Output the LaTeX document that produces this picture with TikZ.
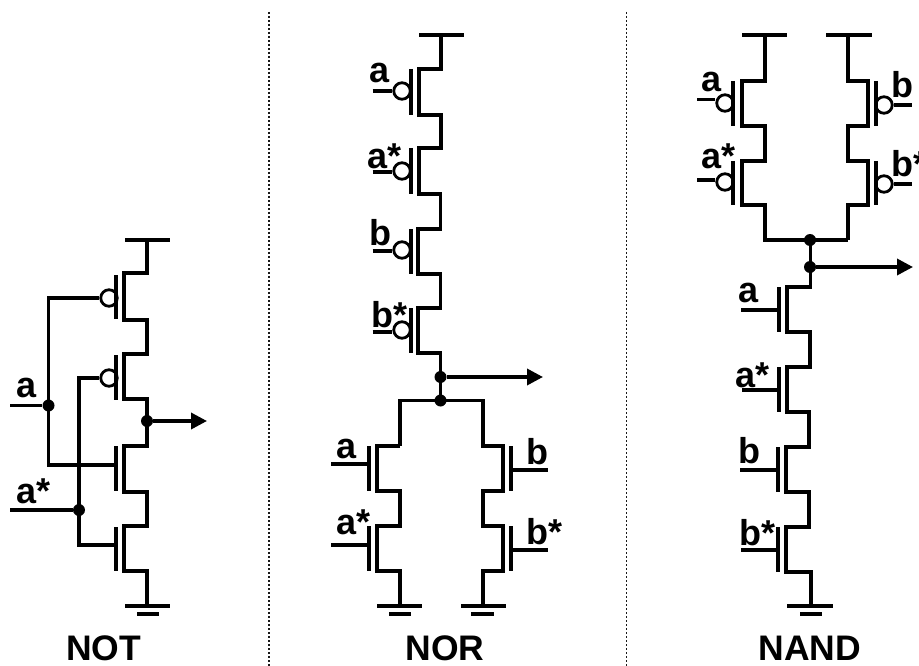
\documentclass[tikz,border=0pt]{standalone}
\usepackage{fontspec}
\setmainfont{Liberation Sans}
\usetikzlibrary{arrows.meta}
\tikzset{
  wire/.style={line width=3.5pt,line join=miter},
  bar/.style={line width=4.5pt},
  bubble/.style={circle,draw,line width=2.8pt,fill=white,minimum size=16.5pt,inner sep=0pt},
  joint/.style={circle,fill=black,minimum size=12pt,inner sep=0pt},
  outarrow/.style={line width=3.5pt,-{Triangle[length=16pt,width=16pt]}},
  lbl/.style={anchor=base west,inner sep=0pt,font=\fontsize{36}{36}\selectfont\bfseries},
  title/.style={anchor=base,inner sep=0pt,font=\fontsize{35.5}{36}\selectfont\bfseries},
  sep/.style={line width=1.8pt,dash pattern=on 1.8pt off 2.2pt,color=black!90}
}
\begin{document}
\begin{tikzpicture}[x=1pt,y=-1pt]
  \useasboundingbox (0,0) rectangle (919,666);
  % panel separators
  \draw[sep] (269,12) -- (269,666);
  \draw[sep] (626.5,12) -- (626.5,666);

  % NOT
  \draw[bar] (125,240) -- (170,240);
  \draw[wire] (147,240) -- (147,273) -| (124,320) -| (147,354) -| (124,399) -| (147,446)
  -| (124,492) -| (147,526) -| (124,571) -| (147,606);
  \draw[bar] (125,606) -- (170,606);
  \draw[bar] (137,614) -- (159,614);
  \node[bubble] (nota) at (109,298) {};
  \node[bubble] (notb) at (109,378) {};
  \foreach \t/\b in {275/319,355/400,446/491,527/571}
  \draw[bar] (116,\t) -- (116,\b);
  \node[joint] (nj1) at (48.5,405.5) {};
  \node[joint] (nj2) at (79,510) {};
  \node[joint] (nj3) at (147,421) {};
  \coordinate (nin1) at (10,405.5);
  \coordinate (nin2) at (10,510);
  \coordinate (nout) at (207,421);
  \draw[wire] (nin1) -- (nj1);
  \draw[wire] (nin2) -- (nj2);
  \draw[wire] (nota.west) -| (nj1.center) |- (116,465);
  \draw[wire] (notb.west) -| (nj2.center) |- (116,545);
  \draw[outarrow] (nj3) -- (nout);
  \node[lbl] (nl1) at (16,397) {a};
  \node[lbl] (nl2) at (16,503) {a*};
  \node[title] (ntitle) at (103.5,660) {NOT};

  % NOR, series part
  \draw[bar] (419,35) -- (464,35);
  \draw[wire] (441,35) -- (441,69) -| (419,115) -| (441,148) -| (419,194) -| (440.5,229)
  -| (418,274) -| (440.5,308) -| (418,353) -| (440.5,400);
  \foreach \n/\y/\w in {a/91/91,b/171/172,c/250/251,d/330/332}{
    \node[bubble] (nor\n) at (402,\y) {};
    \coordinate (norin\n) at (372.5,\w);
    \draw[wire] (norin\n) -- (nor\n.west |- norin\n);
  }
  \foreach \t/\b in {69/115,148/194,229/274,308/353}
  \draw[bar] (411,\t) -- (411,\b);
  \node[lbl] (rl1) at (369,83) {a};
  \node[lbl] (rl2) at (367,168) {a*};
  \node[lbl] (rl3) at (369,245) {b};
  \node[lbl] (rl4) at (371,327) {b*};
  \node[joint] (rj1) at (440.5,377) {};
  \node[joint] (rj2) at (440.5,400.5) {};
  \coordinate (rout) at (543,377);
  \draw[outarrow] (rj1) -- (rout);

  % NOR, parallel part
  \draw[wire] (400,446) |- (483,400.5) |- (483,446) -| (503,491) -| (483,526) -| (503,571) -| (483,606);
  \draw[wire] (400,446) -| (377,491) -| (400,526) -| (377,571) -| (400,606);
  \draw[bar] (377,606) -- (422,606);
  \draw[bar] (389,614) -- (411,614);
  \draw[bar] (461,606) -- (506,606);
  \draw[bar] (471,614) -- (494,614);
  \foreach \t/\b in {446/491,526/571}{
    \draw[bar] (369,\t) -- (369,\b);
    \draw[bar] (511,\t) -- (511,\b);
  }
  \draw[wire] (331,464) -- (369,464);
  \draw[wire] (331,545) -- (369,545);
  \draw[wire] (511,470) -- (548,470);
  \draw[wire] (511,550) -- (548,550);
  \node[lbl] (rl5) at (336,458) {a};
  \node[lbl] (rl6) at (336,534) {a*};
  \node[lbl] (rl7) at (526,464) {b};
  \node[lbl] (rl8) at (526,544) {b*};
  \node[title] (rtitle) at (445,660) {NOR};

  % NAND, parallel part
  \draw[bar] (742,35) -- (787,35);
  \draw[bar] (826,35) -- (872,35);
  \draw[wire] (765,35) -- (765,81) -| (742,126) -| (765,161) -| (742,205) -| (765,240) -- (848,240);
  \draw[wire] (848,35) -- (848,81) -| (868,126) -| (848,161) -| (868,205) -| (848,240);
  \node[bubble] (nda) at (725,103) {};
  \node[bubble] (ndb) at (725,182) {};
  \node[bubble] (ndc) at (884,105) {};
  \node[bubble] (ndd) at (884,184) {};
  \foreach \t/\b in {81/126,161/205}{
    \draw[bar] (733,\t) -- (733,\b);
    \draw[bar] (876,\t) -- (876,\b);
  }
  \coordinate (ndin1) at (697,99.5);
  \coordinate (ndin2) at (697,180);
  \coordinate (ndin3) at (912,105);
  \coordinate (ndin4) at (912,184);
  \draw[wire] (ndin1) -- (nda.west |- ndin1);
  \draw[wire] (ndin2) -- (ndb.west |- ndin2);
  \draw[wire] (ndc.east) -- (ndin3);
  \draw[wire] (ndd.east) -- (ndin4);
  \node[lbl] (dl1) at (701,92) {a};
  \node[lbl] (dl2) at (701,168) {a*};
  \node[lbl] (dl3) at (891,98) {b};
  \node[lbl] (dl4) at (891,177) {b*};
  \node[joint] (dj1) at (810,240) {};
  \node[joint] (dj2) at (810,267) {};
  \coordinate (dout) at (913,267);
  \draw[outarrow] (dj2) -- (dout);

  % NAND, series part
  \draw[wire] (810.5,240) -- (810.5,287) -| (787,332) -| (810,367) -| (787,412) -| (809,447)
  -| (786,492) -| (809,527) -| (786,572) -| (811,606);
  \draw[bar] (787,606) -- (833,606);
  \draw[bar] (800,614) -- (822,614);
  \foreach \x/\t/\b in {779/287/332,779/367/412,778/447/492,778/527/572}
  \draw[bar] (\x,\t) -- (\x,\b);
  \foreach \y/\x in {310/741,390/742,470/740,550/741}
  \draw[wire] (\x,\y) -- (778,\y);
  \node[lbl] (dl5) at (738,302) {a};
  \node[lbl] (dl6) at (735,387) {a*};
  \node[lbl] (dl7) at (738,463) {b};
  \node[lbl] (dl8) at (739,545) {b*};
  \node[title] (dtitle) at (810,660) {NAND};
\end{tikzpicture}
\end{document}
